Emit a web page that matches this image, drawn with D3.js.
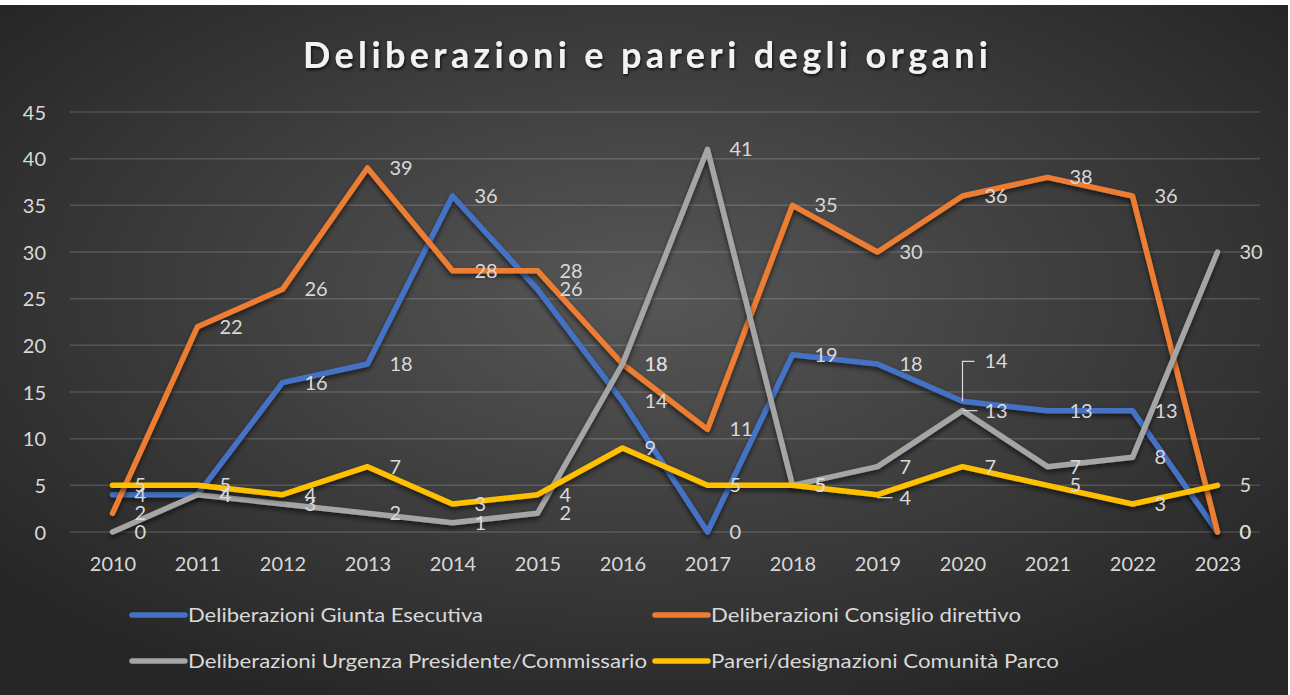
<!DOCTYPE html>
<html><head><meta charset="utf-8">
<script src="https://cdn.jsdelivr.net/npm/d3@7"></script>
<style>html,body{margin:0;padding:0;background:#fff;}svg{display:block;}</style>
</head><body>
<svg id="c" width="1290" height="695"></svg>
<script>
const years = ["2010","2011","2012","2013","2014","2015","2016","2017","2018","2019","2020","2021","2022","2023"];
const giunta   = [4,4,16,18,36,26,14,0,19,18,14,13,13,0];
const consiglio= [2,22,26,39,28,28,18,11,35,30,36,38,36,0];
const urgenza  = [0,4,3,2,1,2,18,41,5,7,13,7,8,30];
const pareri   = [5,5,4,7,3,4,9,5,5,4,7,5,3,5];
const seriesNames = ["Deliberazioni Giunta Esecutiva","Deliberazioni Consiglio direttivo","Deliberazioni Urgenza Presidente/Commissario","Pareri/designazioni Comunità Parco"];
const colors = ["#4472C4","#ED7D31","#A5A5A5","#FFC000"];
const yTicks = [0,5,10,15,20,25,30,35,40,45];
const title = "Deliberazioni e pareri degli organi";

const series = [giunta, consiglio, urgenza, pareri].map((v,i)=>({name:seriesNames[i], color:colors[i], values:v}));

const svg = d3.select("#c");
const W=1290,H=695;
const defs = svg.append("defs");
const rg = defs.append("radialGradient").attr("id","bg").attr("cx","50%").attr("cy","42%").attr("r","65%");
rg.append("stop").attr("offset","0%").attr("stop-color","#575757");
rg.append("stop").attr("offset","100%").attr("stop-color","#262626");
const f = defs.append("filter").attr("id","sh").attr("x","-10%").attr("y","-10%").attr("width","120%").attr("height","130%");
f.append("feDropShadow").attr("dx",0).attr("dy",3).attr("stdDeviation",2.5).attr("flood-color","#000").attr("flood-opacity",0.6);
const f2 = defs.append("filter").attr("id","tsh");
f2.append("feDropShadow").attr("dx",1).attr("dy",2).attr("stdDeviation",1.5).attr("flood-color","#000").attr("flood-opacity",0.7);

svg.append("rect").attr("x",0).attr("y",5).attr("width",1288).attr("height",690).attr("fill","url(#bg)");

const x = d3.scalePoint().domain(years).range([70,1260]).padding(0.5);
const y = d3.scaleLinear().domain([0,45]).range([532,112]);

// gridlines
svg.append("g").selectAll("line").data(yTicks).join("line")
  .attr("x1",70).attr("x2",1260).attr("y1",d=>y(d)).attr("y2",d=>y(d))
  .attr("stroke","#ffffff").attr("stroke-opacity",0.16).attr("stroke-width",1.5);

// y axis
const ya = svg.append("g").attr("transform","translate(46,0)").call(d3.axisLeft(y).tickValues(yTicks).tickSize(0).tickPadding(0));
ya.select(".domain").remove();
ya.selectAll("text").attr("fill","#d9d9d9").attr("font-family","Lato, sans-serif").attr("font-size",20).attr("dy","0.35em");

// x axis
const xa = svg.append("g").attr("transform","translate(0,564)").call(d3.axisBottom(x).tickSize(0).tickPadding(0));
xa.select(".domain").remove();
xa.selectAll("text").attr("fill","#d9d9d9").attr("font-family","Lato, sans-serif").attr("font-size",20).attr("dy","0.35em");

// title
svg.append("text").attr("x",645.5).attr("y",68).attr("text-anchor","middle")
  .attr("font-family","Lato, sans-serif").attr("font-weight","bold").attr("font-size",36)
  .attr("fill","#f2f2f2").attr("filter","url(#tsh)")
  .attr("textLength",685).attr("lengthAdjust","spacing").text(title);

// lines
const line = d3.line().x((d,i)=>x(years[i])).y(d=>y(d));
svg.append("g").selectAll("path").data(series).join("path")
  .attr("d",d=>line(d.values)).attr("fill","none").attr("stroke",d=>d.color)
  .attr("stroke-width",5.5).attr("stroke-linejoin","round").attr("stroke-linecap","round")
  .attr("filter","url(#sh)");

// labels
const overrides = {"0-10":{dx:22,dy:-40,leader:"v"},"2-10":{dx:22,dy:0,leader:"h"},"3-9":{dx:22,dy:3,leader:"h"}};
const lg = svg.append("g");
series.forEach((s,si)=>{
  s.values.forEach((v,i)=>{
    const px=x(years[i]), py=y(v);
    const o = overrides[si+"-"+i] || {dx:22,dy:0};
    if(o.leader==="v"){
      lg.append("path").attr("d",`M${px},${py} L${px},${py+o.dy} L${px+12},${py+o.dy}`)
        .attr("fill","none").attr("stroke","#d9d9d9").attr("stroke-width",1.2);
    } else if(o.leader==="h"){
      lg.append("line").attr("x1",px).attr("x2",px+15).attr("y1",py+o.dy).attr("y2",py+o.dy)
        .attr("stroke","#d9d9d9").attr("stroke-width",1.2);
    }
    lg.append("text").attr("x",px+o.dx).attr("y",py+o.dy).attr("dy","0.35em")
      .attr("fill","#d9d9d9").attr("font-family","Lato, sans-serif").attr("font-size",20).text(v);
  });
});

// legend
const legPos = [[130,615,295],[653,615,310],[130,661,459],[653,661,348]];
series.forEach((s,i)=>{
  const [lx,ly,tw]=legPos[i];
  svg.append("line").attr("x1",lx+2).attr("x2",lx+55).attr("y1",ly).attr("y2",ly)
    .attr("stroke",s.color).attr("stroke-width",5.5).attr("stroke-linecap","round");
  svg.append("text").attr("x",lx+58).attr("y",ly).attr("dy","0.35em")
    .attr("fill","#d9d9d9").attr("font-family","Lato, sans-serif").attr("font-size",19)
    .attr("textLength",tw).attr("lengthAdjust","spacingAndGlyphs").text(s.name);
});
</script>
</body></html>
